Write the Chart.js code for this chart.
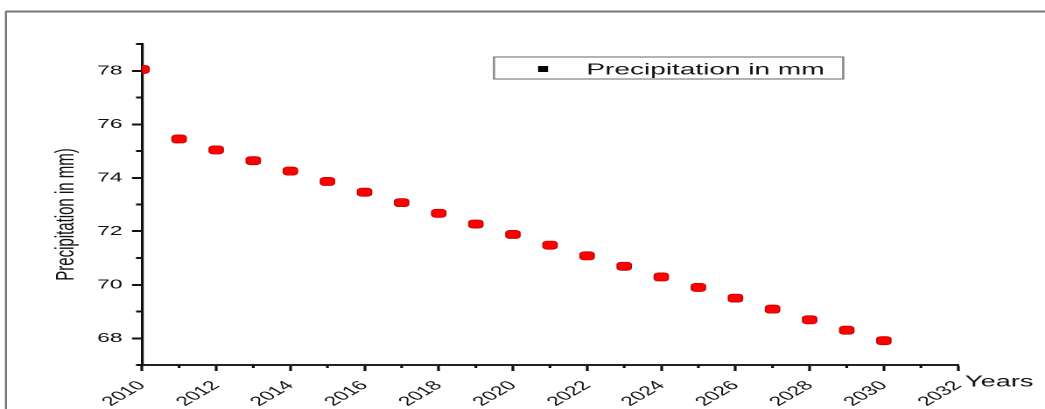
<!DOCTYPE html>
<html>
<head>
<meta charset="utf-8">
<script src="https://cdn.jsdelivr.net/npm/chart.js@4.4.1/dist/chart.umd.min.js"></script>
<style>
  html, body { margin: 0; padding: 0; background: #fff; overflow: hidden; }
  /* the plot is laid out on a narrower canvas and widened horizontally */
  #wrap { position: absolute; left: 0; top: 0; width: 597px; height: 409px;
          transform: scaleX(1.7504); transform-origin: 0 0; }
</style>
</head>
<body>
<div id="wrap"><canvas id="c"></canvas></div>
<script>
// ---- data ----
const years = [2010, 2011, 2012, 2013, 2014, 2015, 2016, 2017, 2018, 2019, 2020,
               2021, 2022, 2023, 2024, 2025, 2026, 2027, 2028, 2029, 2030];
const precipitation = [78.05, 75.45, 75.04, 74.64, 74.25, 73.86, 73.46, 73.07, 72.67, 72.27, 71.88,
                       71.48, 71.08, 70.69, 70.29, 69.90, 69.50, 69.09, 68.69, 68.30, 67.91];
const seriesLabel = 'Precipitation in mm';
const yAxisTitle = 'Precipitation in mm)';
const xAxisTitle = 'Years';
const xMajorTicks = [2010, 2012, 2014, 2016, 2018, 2020, 2022, 2024, 2026, 2028, 2030, 2032];
const xMinorTicks = [2011, 2013, 2015, 2017, 2019, 2021, 2023, 2025, 2027, 2029, 2031];
const yMajorTicks = [68, 70, 72, 74, 76, 78];
const yMinorTicks = [67, 69, 71, 73, 75, 77, 79];

const FONT = "'Liberation Sans', Arial, sans-serif";
Chart.defaults.font.family = FONT;

// frame, minor ticks, axis captions and legend box
const decorations = {
  id: 'decorations',
  beforeDraw(chart) {
    const ctx = chart.ctx;
    ctx.save();
    ctx.fillStyle = '#fff';
    ctx.fillRect(0, 0, chart.width, chart.height);
    ctx.strokeStyle = '#767676';
    ctx.lineWidth = 2;
    ctx.beginPath();
    ctx.moveTo(3.4, 11.5); ctx.lineTo(chart.width, 11.5);
    ctx.stroke();
    ctx.lineWidth = 1.2;
    ctx.beginPath();
    ctx.moveTo(3.4, 11); ctx.lineTo(3.4, chart.height);
    ctx.stroke();
    ctx.restore();
  },
  afterDraw(chart) {
    const ctx = chart.ctx;
    const xs = chart.scales.x, ys = chart.scales.y;
    ctx.save();
    ctx.strokeStyle = '#111';
    // minor ticks on x
    ctx.lineWidth = 1.6;
    xMinorTicks.forEach(v => {
      const px = xs.getPixelForValue(v);
      ctx.beginPath(); ctx.moveTo(px, xs.top); ctx.lineTo(px, xs.top + 3); ctx.stroke();
    });
    // minor ticks on y
    ctx.lineWidth = 2;
    yMinorTicks.forEach(v => {
      const py = ys.getPixelForValue(v);
      ctx.beginPath(); ctx.moveTo(ys.right, py); ctx.lineTo(ys.right - 3.4, py); ctx.stroke();
    });

    // y axis caption
    ctx.fillStyle = '#111';
    ctx.font = '15px ' + FONT;
    ctx.save();
    ctx.translate(38, 214.5);
    ctx.rotate(-Math.PI / 2);
    ctx.textAlign = 'center';
    ctx.textBaseline = 'middle';
    ctx.fillText(yAxisTitle, 0, 0);
    ctx.restore();

    // x axis caption at the end of the axis
    ctx.font = '15.5px ' + FONT;
    ctx.textAlign = 'left';
    ctx.textBaseline = 'alphabetic';
    ctx.fillText(xAxisTitle, xs.right + 4, 386.5);

    // legend
    const ds = chart.data.datasets[0];
    ctx.strokeStyle = '#8a8a8a';
    ctx.lineWidth = 1.3;
    ctx.strokeRect(282.2, 57, 199.5, 22);
    ctx.fillStyle = '#000';
    ctx.fillRect(307.4, 66, 5.7, 6);
    ctx.fillStyle = '#111';
    ctx.font = '16px ' + FONT;
    ctx.fillText(ds.label, 335, 74.5);
    ctx.restore();
  }
};

new Chart(document.getElementById('c'), {
  type: 'scatter',
  data: {
    datasets: [{
      label: seriesLabel,
      data: years.map((x, i) => ({ x: x, y: precipitation[i] })),
      pointStyle: 'rectRounded',
      pointRadius: 4.7,
      backgroundColor: '#ff0000',
      borderColor: '#c80000',
      borderWidth: 0.8,
      showLine: false,
      clip: { left: 0, top: false, right: false, bottom: false }
    }]
  },
  options: {
    responsive: true,
    maintainAspectRatio: false,
    devicePixelRatio: 2,
    animation: false,
    events: [],
    layout: { padding: { left: 29, top: 44, right: 49.7, bottom: 0 } },
    plugins: { legend: { display: false }, tooltip: { enabled: false } },
    scales: {
      x: {
        type: 'linear',
        position: 'bottom',
        min: 2010, max: 2032,
        afterBuildTicks(scale) { scale.ticks = xMajorTicks.map(v => ({ value: v })); },
        afterFit(scale) { scale.height = 44; scale.paddingLeft = 0; scale.paddingRight = 0; },
        ticks: {
          autoSkip: false, minRotation: 45, maxRotation: 45,
          color: '#111', font: { size: 13 }, padding: 7,
          callback: v => String(v)
        },
        grid: { drawOnChartArea: false, drawTicks: true, tickLength: 6, tickWidth: 1.6, tickColor: '#111' },
        border: { display: true, color: '#222', width: 2 }
      },
      y: {
        min: 67, max: 79,
        afterBuildTicks(scale) { scale.ticks = yMajorTicks.map(v => ({ value: v })); },
        afterFit(scale) { scale.width = 52.12; },
        ticks: {
          color: '#111', font: { size: 13 }, padding: 5.5,
          callback: v => String(v)
        },
        grid: { drawOnChartArea: false, drawTicks: true, tickLength: 5.7, tickWidth: 2, tickColor: '#111' },
        border: { display: true, color: '#111', width: 1.6 }
      }
    }
  },
  plugins: [decorations]
});
</script>
</body>
</html>
